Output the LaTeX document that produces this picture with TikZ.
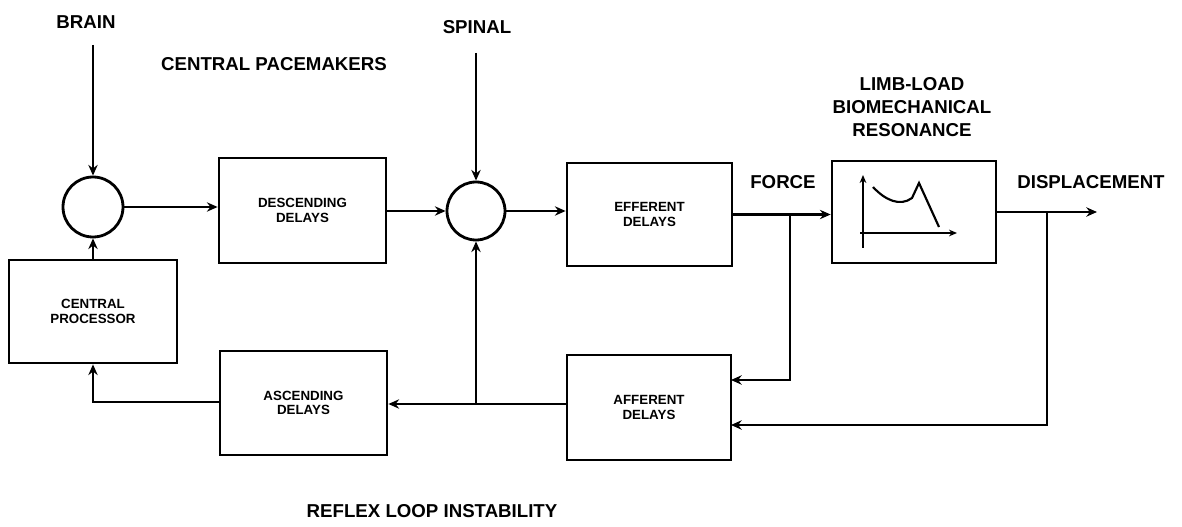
\documentclass[tikz,border=0pt]{standalone}
\usepackage{fontspec}
\setmainfont{Liberation Sans}
\usetikzlibrary{arrows.meta}
\begin{document}
\begin{tikzpicture}[x=0.75pt,y=-0.75pt,
  line width=2.1pt,
  tip/.style={-{Stealth[length=8pt,width=7pt]}},
  blk/.style={draw,line width=2.1pt,inner sep=0pt,align=center,font=\bfseries\fontsize{10}{11}\selectfont},
  sum/.style={draw,circle,line width=2.1pt,inner sep=0pt},
  lbl/.style={font=\bfseries\fontsize{14}{16}\selectfont,align=center}]
\useasboundingbox (0,0) rectangle (1182,527);
% blocks
\node[blk,minimum width={167*0.75pt},minimum height={105*0.75pt}] (desc) at (302.5,210.5) {DESCENDING\\DELAYS};
\node[blk,minimum width={165*0.75pt},minimum height={103*0.75pt}] (eff) at (649.5,214.5) {EFFERENT\\DELAYS};
\node[blk,minimum width={164*0.75pt},minimum height={102*0.75pt}] (limb) at (914,212) {};
\node[blk,minimum width={168*0.75pt},minimum height={103*0.75pt}] (cp) at (93,311.5) {CENTRAL\\PROCESSOR};
\node[blk,minimum width={167*0.75pt},minimum height={104*0.75pt}] (asc) at (303.5,403) {ASCENDING\\DELAYS};
\node[blk,minimum width={164*0.75pt},minimum height={105*0.75pt}] (aff) at (649,407.5) {AFFERENT\\DELAYS};
\node[sum,minimum size={60*0.75pt}] (c1) at (93,207) {};
\node[sum,minimum size={58*0.75pt}] (c2) at (476,211) {};
% labels
\node[lbl] (brain) at (86,22) {BRAIN};
\node[lbl] (pace) at (274,64) {CENTRAL PACEMAKERS};
\node[lbl] (spinal) at (477,27) {SPINAL};
\node[lbl] (force) at (783,182) {FORCE};
\node[lbl] (disp) at (1091,182) {DISPLACEMENT};
\node[lbl,font=\bfseries\fontsize{14}{17}\selectfont] (limbl) at (912,107) {LIMB-LOAD\\BIOMECHANICAL\\RESONANCE};
\node[lbl] (reflex) at (432,511) {REFLEX LOOP INSTABILITY};
% coordinates
\coordinate (brainin) at (93,45);
\coordinate (spinalin) at (476,53);
\coordinate (fb) at (790,214.5);
\coordinate (db) at (1047,212);
\coordinate (dispend) at (1097,212);
\coordinate (affin1) at (731,380);
\coordinate (affin2) at (731,425);
\coordinate (aj) at (476,404);
\coordinate (cpj) at (91,402);
% connectors
\draw[tip] (brainin) -- (c1.north);
\draw[tip] (spinalin) -- (c2.north);
\draw[tip] (c1.east) -- (desc.west |- c1.east);
\draw[tip] (desc.east |- c2.west) -- (c2.west);
\draw[tip] (c2.east) -- (eff.west |- c2.east);
\draw[tip] (eff.east) -- (limb.west |- eff.east);
\draw[tip] (fb) |- (affin1);
\draw[tip] (limb.east) -- (dispend);
\draw[tip] (db) |- (affin2);
\draw[tip] (aff.west |- aj) -- (asc.east |- aj);
\draw[tip] (aj) -- (c2.south);
\draw[tip] (asc.west |- cpj) -| (cp.south);
\draw[tip] (cp.north) -- (c1.south);
% graph in limb box
\draw[line width=1.6pt,-{Stealth[length=6pt,width=5pt]}] (863,248) -- (863,175);
\draw[line width=1.6pt,-{Stealth[length=6pt,width=5pt]}] (860,233) -- (957,233);
\draw[line width=1.6pt] (873,187) .. controls (885,200) and (900,207) .. (912,198) -- (919,183) -- (939,227);
\end{tikzpicture}
\end{document}
